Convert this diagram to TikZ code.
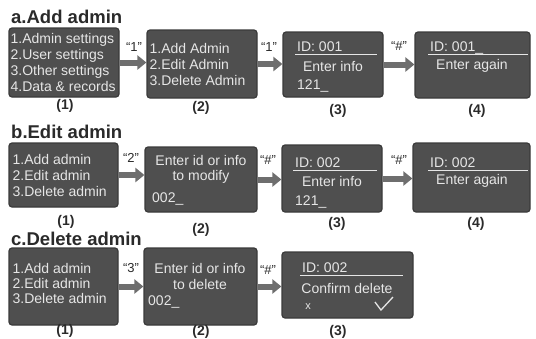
\documentclass[tikz,border=0pt]{standalone}
\usepackage{fontspec}
\setmainfont{Liberation Sans}
\usetikzlibrary{arrows.meta,positioning}
\definecolor{screenfill}{HTML}{4F4F4F}
\definecolor{screenedge}{HTML}{3A3A3A}
\definecolor{screentext}{HTML}{E6E6E6}
\definecolor{ink}{HTML}{2A2A2A}
\definecolor{arrowgray}{HTML}{6E6E6E}
\tikzset{
  screen/.style={draw=screenedge, line width=1.2pt, fill=screenfill, rounded corners=3pt, inner sep=0pt},
  scrtext/.style={text=screentext, font=\fontsize{14}{16}\selectfont, inner sep=0pt},
  menu/.style={scrtext, align=left, anchor=west},
  title/.style={font=\fontsize{18.5}{19}\selectfont\bfseries, text=ink, anchor=base west, inner sep=0pt},
  caption/.style={font=\fontsize{14}{14}\selectfont\bfseries, text=ink},
  key/.style={font=\fontsize{13}{13}\selectfont, text=ink},
  push/.style={line width=6pt, draw=arrowgray, -{Triangle[length=9pt,width=14pt]}},
  idline/.style={draw=screentext, line width=0.8pt},
}
\begin{document}
\begin{tikzpicture}[x=1pt,y=-1pt]
\useasboundingbox (0,0) rectangle (536,338);
% a. add admin
\node[title] (atitle) at (11,23) {a.Add admin};
\node[screen, minimum width=110pt, minimum height=69pt] (a1) at (64,62.5) {};
\node[menu, right=2pt of a1.west, font=\fontsize{14}{16.3}\selectfont] (a1txt)
  {1.Admin settings\\2.User settings\\3.Other settings\\4.Data \& records};
\node[screen, minimum width=110pt, minimum height=68pt] (a2) at (202,64) {};
\node[menu, right=3pt of a2.west] (a2txt) {1.Add Admin\\2.Edit Admin\\3.Delete Admin};
\node[screen, minimum width=100pt, minimum height=65pt] (a3) at (333,64.5) {};
\node[screen, minimum width=115pt, minimum height=66pt] (a4) at (472.5,65) {};
\node[scrtext, anchor=base west] (a3id) at (297,51) {ID: 001};
\draw[idline] (295,54) -- (377,54);
\node[scrtext] (a3msg) at (333,66) {Enter info};
\node[scrtext, anchor=base west] (a3val) at (297,89) {121\_};
\node[scrtext, anchor=base west] (a4id) at (430,51) {ID: 001\_};
\draw[idline] (428,54) -- (528,54);
\node[scrtext] (a4msg) at (472,66) {Enter again};
\draw[push] (a1.east) -- (a1.east -| a2.west);
\draw[push] (a2.east) -- (a2.east -| a3.west);
\draw[push] (a3.east) -- (a3.east -| a4.west);
\node[key] (akey1) at (134,47) {“1”};
\node[key] (akey2) at (269,47) {“1”};
\node[key] (akey3) at (399,46) {“\#”};
\node[caption] (a1cap) at (65,106) {(1)};
\node[caption] (a2cap) at (201,108) {(2)};
\node[caption] (a3cap) at (338,111) {(3)};
\node[caption] (a4cap) at (477,111) {(4)};
% b. edit admin
\node[title] (btitle) at (11,138) {b.Edit admin};
\node[screen, minimum width=109pt, minimum height=64pt] (b1) at (63.5,175) {};
\node[menu, right=4pt of b1.west] (b1txt) {1.Add admin\\2.Edit admin\\3.Delete admin};
\node[screen, minimum width=112pt, minimum height=65pt] (b2) at (201,179.5) {};
\node[scrtext] (b2msg1) at (201,160) {Enter id or info};
\node[scrtext] (b2msg2) at (201,177) {to modify};
\node[scrtext, anchor=base west] (b2val) at (152,202) {002\_};
\node[screen, minimum width=100pt, minimum height=67pt] (b3) at (332,178.5) {};
\node[scrtext, anchor=base west] (b3id) at (295,167) {ID: 002};
\draw[idline] (293,170) -- (377,170);
\node[scrtext] (b3msg) at (332,181) {Enter info};
\node[scrtext, anchor=base west] (b3val) at (295,205) {121\_};
\node[screen, minimum width=117pt, minimum height=69pt] (b4) at (471.5,177.5) {};
\node[scrtext, anchor=base west] (b4id) at (430,167) {ID: 002};
\draw[idline] (428,170) -- (528,170);
\node[scrtext] (b4msg) at (472,181) {Enter again};
\draw[push] (b1.east) -- (b1.east -| b2.west);
\draw[push] (b2.east) -- (b2.east -| b3.west);
\draw[push] (b3.east) -- (b3.east -| b4.west);
\node[key] (bkey1) at (131,158) {“2”};
\node[key] (bkey2) at (268,160) {“\#”};
\node[key] (bkey3) at (399,160) {“\#”};
\node[caption] (b1cap) at (66,222) {(1)};
\node[caption] (b2cap) at (201,230) {(2)};
\node[caption] (b3cap) at (337,224) {(3)};
\node[caption] (b4cap) at (476,224) {(4)};
% c. delete admin
\node[title] (ctitle) at (11,245) {c.Delete admin};
\node[screen, minimum width=109pt, minimum height=77pt] (c1) at (63.5,286.5) {};
\node[menu, right=4pt of c1.west, yshift=3pt, font=\fontsize{14}{15}\selectfont] (c1txt)
  {1.Add admin\\2.Edit admin\\3.Delete admin};
\node[screen, minimum width=113pt, minimum height=77pt] (c2) at (200.5,286.5) {};
\node[scrtext] (c2msg1) at (200,268) {Enter id or info};
\node[scrtext] (c2msg2) at (200,284) {to delete};
\node[scrtext, anchor=base west] (c2val) at (148,305) {002\_};
\node[screen, minimum width=131pt, minimum height=66pt] (c3) at (347.5,285) {};
\node[scrtext, anchor=base west] (c3id) at (302,272) {ID: 002};
\draw[idline] (300,275) -- (403,275);
\node[scrtext] (c3msg) at (347,288) {Confirm delete};
\node[scrtext, font=\fontsize{11}{11}\selectfont] (c3no) at (308,307) {x};
\draw[screentext, line width=1.3pt] (375,302) -- (381,310) -- (393,297);
\draw[push] (c1.east) -- (c1.east -| c2.west);
\draw[push] (c2.east) -- (c2.east -| c3.west);
\node[key] (ckey1) at (131,268) {“3”};
\node[key] (ckey2) at (268,270) {“\#”};
\node[caption] (c1cap) at (65,331) {(1)};
\node[caption] (c2cap) at (201,332) {(2)};
\node[caption] (c3cap) at (338,332) {(3)};
\end{tikzpicture}
\end{document}
